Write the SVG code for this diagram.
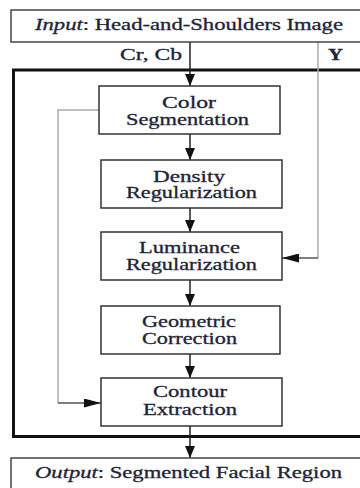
<svg xmlns="http://www.w3.org/2000/svg" width="360" height="488" viewBox="0 0 360 488">
<style>
.t{font-family:"Liberation Serif","Times New Roman",serif;font-size:16px;fill:#1e2436;stroke:#1e2436;stroke-width:0.3}
.box{fill:#fff;stroke:#333;stroke-width:1.5}
.io{fill:#fff;stroke:#444;stroke-width:1.5}
.c{fill:none;stroke:#222;stroke-width:1.5}
.g{fill:none;stroke:#aaa;stroke-width:1.5}
.h{fill:none;stroke:#555;stroke-width:1.3}
</style>
<defs>
<marker id="arr" viewBox="0 0 12 10" refX="12" refY="5" markerWidth="12" markerHeight="10" markerUnits="userSpaceOnUse" orient="auto">
<path d="M0,0 L12,5 L0,10 z" fill="#111"/>
</marker>
<marker id="arrH" viewBox="0 0 17 9" refX="17" refY="4.5" markerWidth="17" markerHeight="9" markerUnits="userSpaceOnUse" orient="auto">
<path d="M0,0 L17,4.5 L0,9 z" fill="#111"/>
</marker>
</defs>
<rect x="0" y="0" width="360" height="488" fill="#fff"/>
<g id="container">
<rect x="13.5" y="70" width="360" height="366.5" fill="none" stroke="#111" stroke-width="3"/>
</g>
<g id="connectors">
<line class="c" x1="190" y1="42" x2="190" y2="86" marker-end="url(#arr)"/>
<line class="c" x1="190" y1="134" x2="190" y2="160" marker-end="url(#arr)"/>
<line class="c" x1="190" y1="208" x2="190" y2="232" marker-end="url(#arr)"/>
<line class="c" x1="190" y1="280" x2="190" y2="306" marker-end="url(#arr)"/>
<line class="c" x1="190" y1="354" x2="190" y2="378" marker-end="url(#arr)"/>
<line class="c" x1="190" y1="426" x2="190" y2="458" marker-end="url(#arr)"/>
<polyline class="g" points="318,42 318,258"/>
<line class="h" x1="318" y1="258" x2="282" y2="258" marker-end="url(#arrH)"/>
<polyline class="g" points="99,110 58,110 58,403"/>
<line class="h" x1="58" y1="403" x2="101" y2="403" marker-end="url(#arrH)"/>
<text class="t" x="120" y="60" textLength="62" lengthAdjust="spacingAndGlyphs">Cr, Cb</text>
<text class="t" x="328" y="60" font-weight="bold" textLength="15" lengthAdjust="spacingAndGlyphs">Y</text>
</g>
<g id="input">
<rect class="io" x="11" y="10" width="360" height="32"/>
<text class="t" x="35" y="30" textLength="308" lengthAdjust="spacingAndGlyphs"><tspan font-style="italic">Input</tspan>: Head-and-Shoulders Image</text>
</g>
<g id="color-segmentation">
<rect class="box" x="99" y="86" width="181" height="48"/>
<text class="t" x="162" y="108" textLength="54" lengthAdjust="spacingAndGlyphs">Color</text>
<text class="t" x="126" y="125" textLength="123" lengthAdjust="spacingAndGlyphs">Segmentation</text>
</g>
<g id="density-regularization">
<rect class="box" x="101" y="160" width="181" height="48"/>
<text class="t" x="153" y="182" textLength="72" lengthAdjust="spacingAndGlyphs">Density</text>
<text class="t" x="126" y="198" textLength="131" lengthAdjust="spacingAndGlyphs">Regularization</text>
</g>
<g id="luminance-regularization">
<rect class="box" x="101" y="232" width="181" height="48"/>
<text class="t" x="139" y="253" textLength="101" lengthAdjust="spacingAndGlyphs">Luminance</text>
<text class="t" x="126" y="270" textLength="131" lengthAdjust="spacingAndGlyphs">Regularization</text>
</g>
<g id="geometric-correction">
<rect class="box" x="101" y="306" width="179" height="48"/>
<text class="t" x="142" y="327" textLength="94" lengthAdjust="spacingAndGlyphs">Geometric</text>
<text class="t" x="142" y="344" textLength="95" lengthAdjust="spacingAndGlyphs">Correction</text>
</g>
<g id="contour-extraction">
<rect class="box" x="101" y="378" width="181" height="48"/>
<text class="t" x="153" y="397" textLength="74" lengthAdjust="spacingAndGlyphs">Contour</text>
<text class="t" x="143" y="415" textLength="94" lengthAdjust="spacingAndGlyphs">Extraction</text>
</g>
<g id="output">
<rect class="io" x="11" y="458" width="360" height="40"/>
<text class="t" x="35" y="478" textLength="307" lengthAdjust="spacingAndGlyphs"><tspan font-style="italic">Output</tspan>: Segmented Facial Region</text>
</g>
</svg>
